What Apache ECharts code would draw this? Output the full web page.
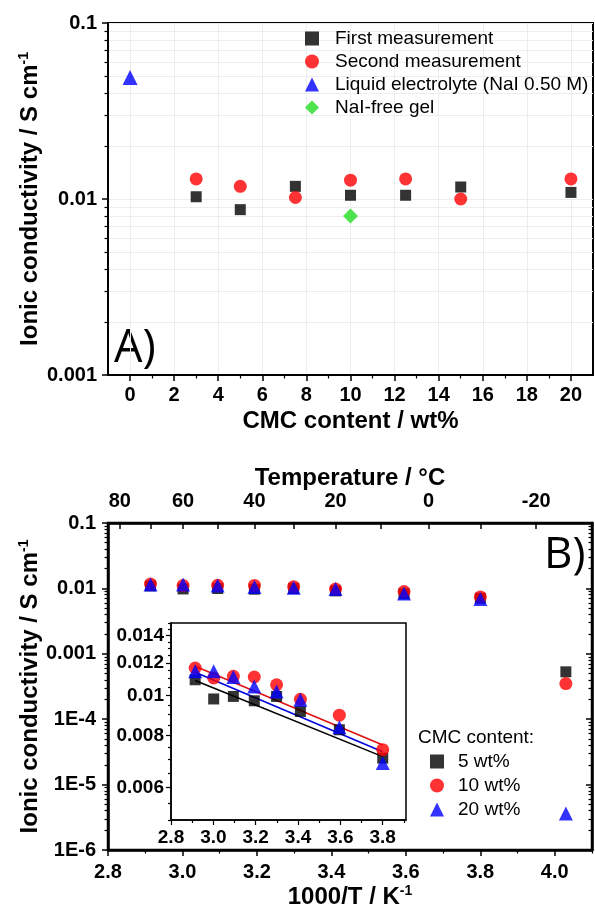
<!DOCTYPE html>
<html>
<head>
<meta charset="utf-8">
<script src="https://cdn.jsdelivr.net/npm/echarts@6/dist/echarts.min.js"></script>
<style>
  html, body { margin: 0; padding: 0; background: #fff; }
  #chart { width: 595px; height: 911px; }
</style>
</head>
<body>
<div id="chart"></div>
<script>
// ---- Panel A: conductivity against CMC content ----
const cmcContent = [3, 5, 7.5, 10, 12.5, 15, 20];
const firstMeasurement  = [0.0103, 0.0087, 0.0118, 0.0105, 0.0105, 0.0117, 0.0109];
const secondMeasurement = [0.0130, 0.0118, 0.0102, 0.0128, 0.0130, 0.0100, 0.0130];
const liquidCmc = [0];
const liquidElectrolyte = [0.049];
const gelCmc = [10];
const naiFreeGel = [0.0080];
const cmcTicks = [0, 2, 4, 6, 8, 10, 12, 14, 16, 18, 20];
const cmcMinorTicks = [1, 3, 5, 7, 9, 11, 13, 15, 17, 19];

// ---- Panel B: conductivity against temperature ----
const temperatures = [70, 60, 50, 40, 30, 20, 5, -10, -25];        // °C
const cmc5wt  = [0.01093, 0.00982, 0.00996, 0.00972, 0.00996, 0.00916, 0.00827, 0.00706, 0.00053];
const cmc10wt = [0.01167, 0.01104, 0.01114, 0.01110, 0.01063, 0.00980, 0.00897, 0.00740, 0.00035];
const cmc20wt = [0.01146, 0.01146, 0.01110, 0.01053, 0.01024, 0.00978, 0.00839, 0.00687, 0.0000036];
const invTTicks = [2.8, 3.0, 3.2, 3.4, 3.6, 3.8, 4.0];
const invTMinorTicks = [2.9, 3.1, 3.3, 3.5, 3.7, 3.9, 4.1];
const tempTicks = [80, 70, 60, 50, 40, 30, 20, 10, 0, -10, -20];
const tempLabels = [80, 60, 40, 20, 0, -20];

// ---- Inset: Arrhenius region ----
const insetXTicks = [2.8, 3.0, 3.2, 3.4, 3.6, 3.8];
const insetXMinorTicks = [2.9, 3.1, 3.3, 3.5, 3.7, 3.9];
const insetYTicks = [0.006, 0.008, 0.01, 0.012, 0.014];
const insetYMinorTicks = [0.005, 0.0055, 0.0065, 0.007, 0.0075, 0.0085, 0.009, 0.0095,
  0.0105, 0.011, 0.0115, 0.0125, 0.013, 0.0135, 0.0145, 0.015];
const fitInvT = [2.914, 3.8];
const fit5wt  = [0.01089, 0.00712];
const fit10wt = [0.01178, 0.00760];
const fit20wt = [0.01140, 0.00732];

const FONT = '"Liberation Sans", Arial, Helvetica, sans-serif';
const toInvT = t => 1000 / (t + 273.15);
const invT = temperatures.map(toInvT);
const pairs = (xs, ys) => xs.map((x, i) => [x, ys[i]]);
const INSET_X_MAX = 3.91;
const insetPairs = ys => pairs(invT, ys).filter(p => p[0] <= INSET_X_MAX);

// minor positions of a log axis (2..9 x each decade), in log10 units
function logMinor(eFrom, eTo) {
  const out = [];
  for (let e = eFrom; e < eTo; e++) for (let k = 2; k <= 9; k++) out.push(Math.log10(k) + e);
  return out;
}
function decadeLabel(v) {
  const e = Math.round(Math.log10(v));
  return e >= -3 ? Math.pow(10, e).toFixed(-e) : '1E' + e;
}

const tickLabel = { fontFamily: FONT, fontWeight: 'bold', fontSize: 20, color: '#000' };
const titleStyle = {
  fontFamily: FONT, fontWeight: 'bold', fontSize: 24, color: '#000',
  rich: { sup: { fontFamily: FONT, fontWeight: 'bold', fontSize: 14, color: '#000', verticalAlign: 'top', lineHeight: 14 },
          base: { fontFamily: FONT, fontWeight: 'bold', fontSize: 24, color: '#000', lineHeight: 26 } }
};
const black = (w) => ({ show: true, onZero: false, lineStyle: { color: '#000', width: w } });
const noLine = { show: false, onZero: false };
const gridLine = { show: true, lineStyle: { color: '#ededed', width: 1 } };

// overlay axis that only carries a set of tick marks
function tickAxis(extra, ticks, len, inside) {
  return Object.assign({
    type: 'value', axisLine: noLine, splitLine: { show: false },
    axisLabel: { show: false },
    axisTick: { show: true, inside: !!inside, length: len, customValues: ticks, lineStyle: { color: '#000', width: 1.2 } }
  }, extra);
}

const xAxis = [
  // 0: panel A bottom
  { type: 'value', gridIndex: 0, min: -1, max: 21, position: 'bottom',
    axisLine: black(2),
    axisTick: { show: true, length: 6, customValues: cmcTicks, lineStyle: { color: '#000', width: 1.5 } },
    axisLabel: Object.assign({ customValues: cmcTicks, margin: 10 }, tickLabel),
    splitLine: gridLine,
    name: 'CMC content / wt%', nameLocation: 'middle', nameGap: 34, nameTextStyle: titleStyle },
  // 1: panel A minor ticks
  tickAxis({ gridIndex: 0, min: -1, max: 21, position: 'bottom' }, cmcMinorTicks, 3.5),
  // 2: panel B bottom
  { type: 'value', gridIndex: 1, min: 2.8, max: 4.1, position: 'bottom',
    axisLine: black(2.5),
    axisTick: { show: true, length: 6, customValues: invTTicks, lineStyle: { color: '#000', width: 1.5 } },
    axisLabel: Object.assign({ customValues: invTTicks, margin: 12, formatter: v => v.toFixed(1) }, tickLabel),
    splitLine: { show: false },
    name: '{base|1000/T / K}{sup|-1}', nameLocation: 'middle', nameGap: 34, nameTextStyle: titleStyle },
  // 3: panel B bottom minor
  tickAxis({ gridIndex: 1, min: 2.8, max: 4.1, position: 'bottom' }, invTMinorTicks, 3.5),
  // 4: panel B top, temperature scale
  { type: 'value', gridIndex: 1, min: 2.8, max: 4.1, position: 'top',
    axisLine: black(2.5),
    axisTick: { show: true, inside: true, length: 6, customValues: tempTicks.map(toInvT), lineStyle: { color: '#000', width: 1.5 } },
    axisLabel: Object.assign({ customValues: tempLabels.map(toInvT), margin: 12,
      formatter: v => String(Math.round(1000 / v - 273.15)) }, tickLabel),
    splitLine: { show: false },
    name: 'Temperature / °C', nameLocation: 'middle', nameGap: 32, nameTextStyle: titleStyle },
  // 5: inset bottom
  { type: 'value', gridIndex: 2, min: 2.8, max: INSET_X_MAX, position: 'bottom',
    axisLine: black(1.5),
    axisTick: { show: true, length: 5, customValues: insetXTicks, lineStyle: { color: '#000', width: 1.2 } },
    axisLabel: Object.assign({ customValues: insetXTicks, margin: 8, formatter: v => v.toFixed(1) }, tickLabel, { fontSize: 19 }),
    splitLine: { show: false } },
  // 6: inset bottom minor
  tickAxis({ gridIndex: 2, min: 2.8, max: INSET_X_MAX, position: 'bottom' }, insetXMinorTicks, 3)
];

const yTitle = {
  name: '{base|Ionic conductivity / S cm}{sup|-1}', nameLocation: 'middle', nameRotate: 90,
  nameGap: 65, nameMoveOverlap: false, nameTextStyle: titleStyle
};

const yAxis = [
  // 0: panel A conductivity (log)
  Object.assign({ type: 'log', gridIndex: 0, min: 0.001, max: 0.1, position: 'left',
    axisLine: black(2),
    axisTick: { show: true, length: 6, lineStyle: { color: '#000', width: 1.5 } },
    axisLabel: Object.assign({ margin: 11, formatter: decadeLabel }, tickLabel),
    splitLine: gridLine }, yTitle),
  // 1: panel A minor ticks (log10 units)
  Object.assign(tickAxis({ gridIndex: 0, min: -3, max: -1, position: 'left' }, logMinor(-3, -1), 3.5),
    { splitLine: gridLine }),
  // 2: panel B conductivity (log)
  Object.assign({ type: 'log', gridIndex: 1, min: 1e-6, max: 0.1, position: 'left',
    axisLine: black(2.5),
    axisTick: { show: true, length: 6, lineStyle: { color: '#000', width: 1.5 } },
    axisLabel: Object.assign({ margin: 12, formatter: decadeLabel }, tickLabel),
    splitLine: { show: false } }, yTitle),
  // 3: panel B minor ticks left
  tickAxis({ gridIndex: 1, min: -6, max: -1, position: 'left' }, logMinor(-6, -1), 3.5),
  // 4: panel B right mirror axis
  { type: 'log', gridIndex: 1, min: 1e-6, max: 0.1, position: 'right',
    axisLine: black(2.5),
    axisTick: { show: true, inside: true, length: 6, lineStyle: { color: '#000', width: 1.5 } },
    axisLabel: { show: false }, splitLine: { show: false } },
  // 5: panel B minor ticks right
  tickAxis({ gridIndex: 1, min: -6, max: -1, position: 'right' }, logMinor(-6, -1), 3.5, true),
  // 6: inset conductivity (log), carries the data
  { type: 'log', gridIndex: 2, min: 0.005, max: 0.015, position: 'left',
    axisLine: black(1.5), axisTick: { show: false }, axisLabel: { show: false }, splitLine: { show: false } },
  // 7: inset labelled ticks (log10 units)
  { type: 'value', gridIndex: 2, min: Math.log10(0.005), max: Math.log10(0.015), position: 'left',
    axisLine: noLine, splitLine: { show: false },
    axisTick: { show: true, length: 5, customValues: insetYTicks.map(Math.log10), lineStyle: { color: '#000', width: 1.2 } },
    axisLabel: Object.assign({ customValues: insetYTicks.map(Math.log10), margin: 7,
      formatter: v => String(parseFloat(Math.pow(10, v).toPrecision(3))) }, tickLabel, { fontSize: 19 }) },
  // 8: inset minor ticks
  tickAxis({ gridIndex: 2, min: Math.log10(0.005), max: Math.log10(0.015), position: 'left' },
    insetYMinorTicks.map(Math.log10), 3)
];

const sq = { symbol: 'rect', symbolSize: 11, itemStyle: { color: '#000' } };
const ci = { symbol: 'circle', symbolSize: 13, itemStyle: { color: '#ff0000' } };
const tr = { symbol: 'triangle', symbolSize: 14, itemStyle: { color: '#0000ff' } };
const scatter = (name, style, data, xi, yi) =>
  Object.assign({ type: 'scatter', name, data, xAxisIndex: xi, yAxisIndex: yi, z: 3 }, style);
const fitLine = (name, ys, color) => ({
  type: 'line', name, data: pairs(fitInvT, ys), xAxisIndex: 5, yAxisIndex: 6,
  showSymbol: false, symbol: 'none', lineStyle: { color, width: 1.6 }, z: 2, silent: true
});

const series = [
  scatter('First measurement', sq, pairs(cmcContent, firstMeasurement), 0, 0),
  scatter('Second measurement', ci, pairs(cmcContent, secondMeasurement), 0, 0),
  scatter('Liquid electrolyte (NaI 0.50 M)', Object.assign({}, tr, { symbolSize: 15 }), pairs(liquidCmc, liquidElectrolyte), 0, 0),
  scatter('NaI-free gel', { symbol: 'diamond', symbolSize: 15, itemStyle: { color: '#22dd22' } }, pairs(gelCmc, naiFreeGel), 0, 0),

  scatter('5 wt%', sq, pairs(invT, cmc5wt), 2, 2),
  scatter('10 wt%', ci, pairs(invT, cmc10wt), 2, 2),
  scatter('20 wt%', tr, pairs(invT, cmc20wt), 2, 2),

  fitLine('fit 5 wt%', fit5wt, '#000'),
  fitLine('fit 10 wt%', fit10wt, '#e01010'),
  fitLine('fit 20 wt%', fit20wt, '#0000e0'),
  scatter('5 wt%', sq, insetPairs(cmc5wt), 5, 6),
  scatter('10 wt%', ci, insetPairs(cmc10wt), 5, 6),
  scatter('20 wt%', tr, insetPairs(cmc20wt), 5, 6)
];

const legendText = (padLeft) => ({ fontFamily: FONT, fontSize: 19, color: '#000', lineHeight: 19, padding: [0, 0, 0, padLeft] });

const option = {
  animation: false,
  backgroundColor: '#fff',
  grid: [
    { left: 108, top: 23, width: 485, height: 352, show: true, borderColor: '#000', borderWidth: 2, backgroundColor: 'transparent' },
    { left: 108, top: 523, width: 484, height: 327, show: true, borderColor: '#000', borderWidth: 2.5, backgroundColor: 'transparent' },
    { left: 171, top: 623, width: 235, height: 197, show: true, borderColor: '#000', borderWidth: 1.5, backgroundColor: '#fff' }
  ],
  xAxis, yAxis, series,
  legend: [
    { data: ['First measurement', 'Second measurement', 'Liquid electrolyte (NaI 0.50 M)', 'NaI-free gel'],
      orient: 'vertical', left: 305, top: 29, padding: 0, itemWidth: 14, itemHeight: 14, itemGap: 4,
      textStyle: legendText(11), selectedMode: false },
    { data: ['5 wt%', '10 wt%', '20 wt%'],
      orient: 'vertical', left: 430, top: 752, padding: 0, itemWidth: 14, itemHeight: 14, itemGap: 5,
      textStyle: legendText(9), selectedMode: false }
  ],
  graphic: [
    { type: 'text', left: 114, top: 327, style: { text: 'A)', font: '45px "Open Sans", sans-serif', fill: '#000' } },
    { type: 'text', left: 544, top: 533, style: { text: 'B)', font: '44px "Open Sans", sans-serif', fill: '#000' } },
    { type: 'text', left: 418, top: 728, style: { text: 'CMC content:', font: '19px "Liberation Sans", Arial, sans-serif', fill: '#000' } }
  ]
};

const chart = echarts.init(document.getElementById('chart'), null, { renderer: 'canvas' });
chart.setOption(option);
</script>
</body>
</html>
